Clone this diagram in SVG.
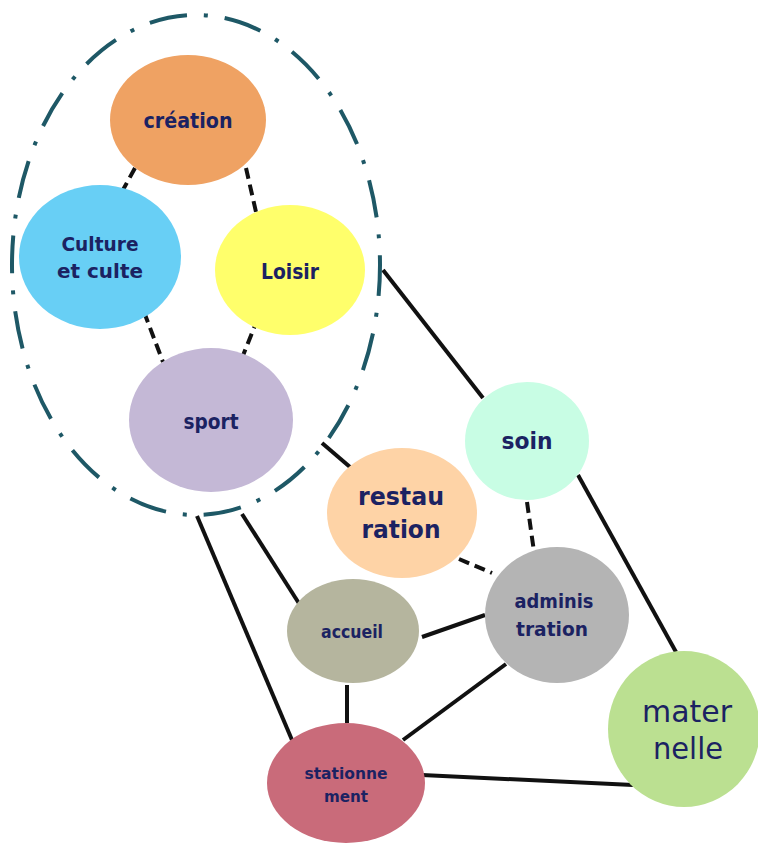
<svg xmlns="http://www.w3.org/2000/svg" width="758" height="844" viewBox="0 0 758 844">
<style>
.lbl{font-family:"DejaVu Sans","Liberation Sans",sans-serif;font-weight:bold;fill:#1b2262;text-anchor:middle}
.reg{font-weight:normal}
.solid{stroke:#111;stroke-width:4;fill:none}
.dash{stroke:#111;stroke-width:4;fill:none;stroke-dasharray:11 6}
.group{fill:none;stroke:#1e5866;stroke-width:4;stroke-dasharray:38 17 4 17;stroke-dashoffset:7}
</style>
<rect width="758" height="844" fill="#fff"/>
<g id="connectors">
<line class="solid" x1="383" y1="270" x2="483" y2="398"/>
<line class="solid" x1="322" y1="443" x2="350" y2="467"/>
<line class="solid" x1="578" y1="475" x2="676" y2="652"/>
<line class="solid" x1="422" y1="637" x2="485" y2="615"/>
<line class="solid" x1="347" y1="685" x2="347" y2="723"/>
<line class="solid" x1="506" y1="664" x2="403" y2="740"/>
<line class="solid" x1="422" y1="775" x2="633" y2="785"/>
<line class="solid" x1="242" y1="514" x2="300" y2="605"/>
<line class="solid" x1="197" y1="516" x2="292" y2="740"/>
<line class="dash" x1="135" y1="168" x2="118" y2="199"/>
<line class="dash" x1="246" y1="168" x2="256" y2="212"/>
<line class="dash" x1="144" y1="312" x2="163" y2="362"/>
<line class="dash" x1="258" y1="318" x2="242" y2="358"/>
<line class="dash" x1="527" y1="502" x2="537" y2="573"/>
<line class="dash" x1="459" y1="559" x2="492" y2="573"/>
</g>
<g id="group-boundary">
<ellipse class="group" cx="196" cy="265" rx="184" ry="250"/>
</g>
<g id="creation">
<ellipse cx="188" cy="120" rx="78" ry="65" fill="#efa263"/>
<text class="lbl" x="188" y="128" font-size="21" textLength="89" lengthAdjust="spacingAndGlyphs">création</text>
</g>
<g id="culture">
<ellipse cx="100" cy="257" rx="81" ry="72" fill="#68cff5"/>
<text class="lbl" x="100" y="251" font-size="20" textLength="77" lengthAdjust="spacingAndGlyphs">Culture</text>
<text class="lbl" x="100" y="278" font-size="20" textLength="86" lengthAdjust="spacingAndGlyphs">et culte</text>
</g>
<g id="loisir">
<ellipse cx="290" cy="270" rx="75" ry="65" fill="#ffff6b"/>
<text class="lbl" x="290" y="279" font-size="21" textLength="58" lengthAdjust="spacingAndGlyphs">Loisir</text>
</g>
<g id="sport">
<ellipse cx="211" cy="420" rx="82" ry="72" fill="#c4b8d6"/>
<text class="lbl" x="211" y="429" font-size="21" textLength="55" lengthAdjust="spacingAndGlyphs">sport</text>
</g>
<g id="soin">
<ellipse cx="527" cy="441" rx="62" ry="59" fill="#c8fde4"/>
<text class="lbl" x="527" y="449" font-size="23" textLength="51" lengthAdjust="spacingAndGlyphs">soin</text>
</g>
<g id="restauration">
<ellipse cx="402" cy="513" rx="75" ry="65" fill="#fed3a6"/>
<text class="lbl" x="401" y="505" font-size="25" textLength="86" lengthAdjust="spacingAndGlyphs">restau</text>
<text class="lbl" x="401" y="538" font-size="25" textLength="79" lengthAdjust="spacingAndGlyphs">ration</text>
</g>
<g id="administration">
<ellipse cx="557" cy="615" rx="72" ry="68" fill="#b4b4b4"/>
<text class="lbl" x="554" y="608" font-size="20" textLength="79" lengthAdjust="spacingAndGlyphs">adminis</text>
<text class="lbl" x="552" y="636" font-size="20" textLength="72" lengthAdjust="spacingAndGlyphs">tration</text>
</g>
<g id="accueil">
<ellipse cx="353" cy="631" rx="66" ry="52" fill="#b5b59e"/>
<text class="lbl" x="352" y="638" font-size="18" textLength="62" lengthAdjust="spacingAndGlyphs">accueil</text>
</g>
<g id="stationnement">
<ellipse cx="346" cy="783" rx="79" ry="60" fill="#c96b7a"/>
<text class="lbl" x="346" y="779" font-size="16" textLength="83" lengthAdjust="spacingAndGlyphs">stationne</text>
<text class="lbl" x="346" y="802" font-size="16" textLength="44" lengthAdjust="spacingAndGlyphs">ment</text>
</g>
<g id="maternelle">
<ellipse cx="684" cy="729" rx="76" ry="78" fill="#bbe091"/>
<text class="lbl reg" x="687" y="722" font-size="31" textLength="90" lengthAdjust="spacingAndGlyphs">mater</text>
<text class="lbl reg" x="688" y="759" font-size="31" textLength="70" lengthAdjust="spacingAndGlyphs">nelle</text>
</g>
</svg>
